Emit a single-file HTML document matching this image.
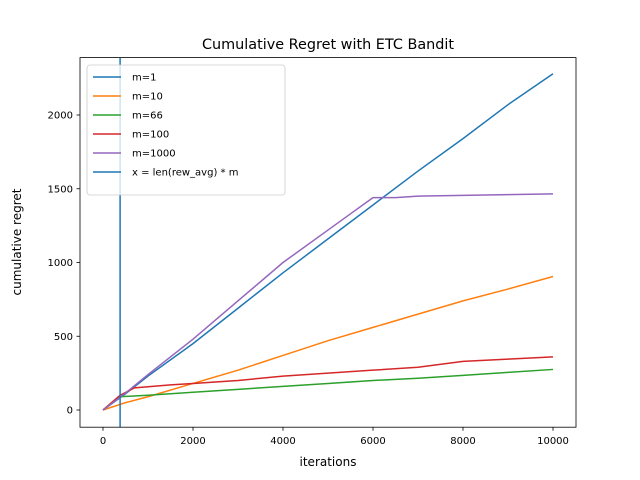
<!DOCTYPE html>
<html><head><meta charset="utf-8"><style>
body{margin:0;background:#fff;}
svg{display:block;font-family:"DejaVu Sans","Liberation Sans",sans-serif;}
</style></head><body>
<svg id="chart" width="640" height="480" viewBox="0 0 640 480" xmlns="http://www.w3.org/2000/svg">
<rect width="640" height="480" fill="#fff"/>
<text x="328" y="49" text-anchor="middle" font-size="14.4">Cumulative Regret with ETC Bandit</text>
<g id="plot"></g>
<rect x="80" y="57.6" width="496" height="369.6" fill="none" stroke="#000" stroke-width="0.8"/>
<text x="328" y="466" text-anchor="middle" font-size="12">iterations</text>
<text transform="translate(21,242) rotate(-90)" text-anchor="middle" font-size="12">cumulative regret</text>
<g id="legend"></g>
</svg>
<script>
const xTicks=[0,2000,4000,6000,8000,10000];
const yTicks=[0,500,1000,1500,2000];
const vline=380;
const seriesNames=["m=1","m=10","m=66","m=100","m=1000"];
const colors=["#1f77b4","#ff7f0e","#2ca02c","#d62728","#9467bd"];
const m1X=[0,500,1000,2000,3000,4000,5000,6000,7000,8000,9000,10000];
const m1Y=[0,110,230,450,690,930,1160,1390,1620,1840,2070,2280];
const m10X=[0,500,1000,2000,3000,4000,5000,6000,7000,8000,9000,10000];
const m10Y=[0,50,90,180,270,370,470,560,650,740,820,905];
const m66X=[0,380,1000,1500,2000,3000,4000,5000,6000,7000,8000,9000,10000];
const m66Y=[0,90,100,110,120,140,160,180,200,215,235,255,275];
const m100X=[0,380,700,1500,2000,3000,4000,5000,6000,7000,8000,9000,10000];
const m100Y=[0,100,150,170,180,200,230,250,270,290,330,345,360];
const m1000X=[0,500,1000,2000,3000,4000,5000,5500,6000,6500,7000,8000,9000,10000];
const m1000Y=[0,115,240,480,740,1000,1220,1330,1440,1440,1450,1455,1460,1465];
const NS="http://www.w3.org/2000/svg";
const xs=v=>103+v*0.045;
const ys=v=>410-v*0.1475;
const plot=document.getElementById('plot');
function mk(tag,attrs,parent){const e=document.createElementNS(NS,tag);for(const k in attrs)e.setAttribute(k,attrs[k]);parent.appendChild(e);return e;}
xTicks.forEach(t=>{
  const l=mk('line',{x1:xs(t),x2:xs(t),y1:427.2,y2:430.7,stroke:'#000','stroke-width':0.8},plot);
  
  
  const tx=mk('text',{x:xs(t),y:444,'text-anchor':'middle','font-size':10},plot);tx.textContent=t;
  
  
});
yTicks.forEach(t=>{
  const l=mk('line',{x1:76.5,x2:80,y1:ys(t),y2:ys(t),stroke:'#000','stroke-width':0.8},plot);
  
  
  const tx=mk('text',{x:73,y:ys(t)+3.5,'text-anchor':'end','font-size':10},plot);tx.textContent=t;
  
  
});
const allX=[m1X,m10X,m66X,m100X,m1000X],allY=[m1Y,m10Y,m66Y,m100Y,m1000Y];
allX.forEach((X,i)=>{
  const d=X.map((x,j)=>(j?'L':'M')+xs(x)+','+ys(allY[i][j])).join(' ');
  const p=mk('path',{d:d,fill:'none',stroke:colors[i],'stroke-width':1.5},plot);
  
  
});
const vl=mk('line',{x1:xs(vline),x2:xs(vline),y1:57.6,y2:427.2,stroke:'#1f77b4','stroke-width':1.5},plot);


const lg=document.getElementById('legend');
const box=mk('rect',{x:87,y:65,width:198,height:130,rx:3,fill:'#fff','fill-opacity':0.8,stroke:'#ccc','stroke-width':0.8},lg);


const labels=seriesNames.concat(['x = len(rew_avg) * m']);
const lc=colors.concat(['#1f77b4']);
labels.forEach((s,i)=>{
  const y=77+i*19;
  const g=mk('g',{},lg);
  
  
  mk('line',{x1:93,x2:121,y1:y,y2:y,stroke:lc[i],'stroke-width':1.5},g);
  const t=mk('text',{x:132,y:y+3.5,'font-size':10},g);t.textContent=s;
});
</script>
</body></html>
